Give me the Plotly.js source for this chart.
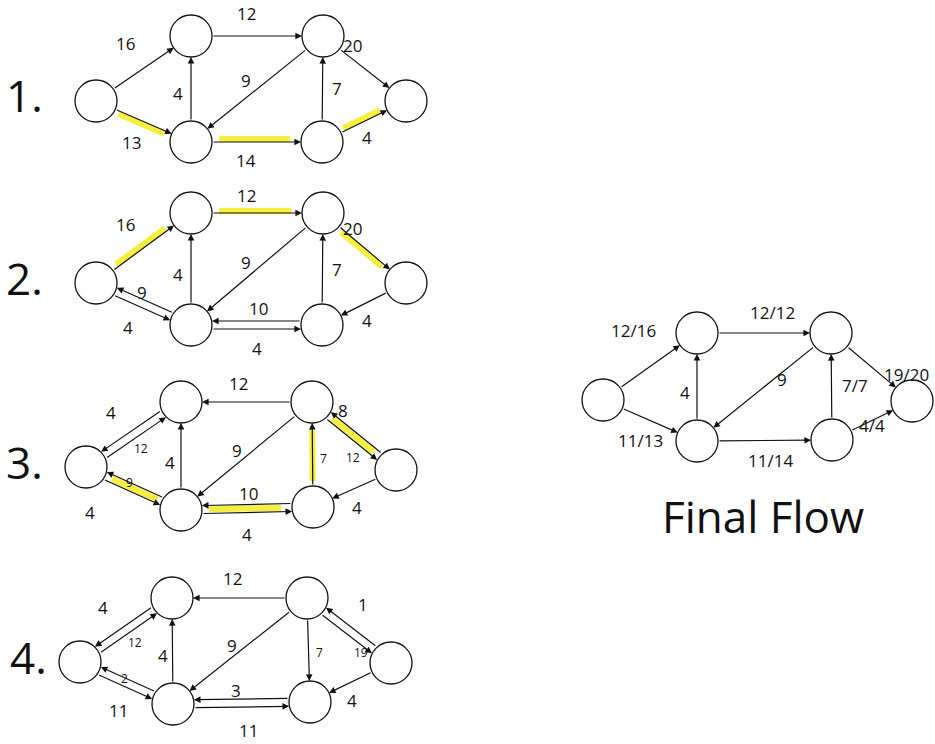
<!DOCTYPE html>
<html>
<head>
<meta charset="utf-8">
<script src="https://cdn.plot.ly/plotly-3.0.1.min.js"></script>
<style>body{margin:0;background:#fff}</style>
</head>
<body>
<div id="chart-area" style="width:935px;height:744px"></div>
<script>
// node centres (pixel space) for each network: s, a, b, c, d, t
const nodes1 = { s: [96, 101], a: [191, 36], b: [191, 142], c: [323, 36], d: [322, 142], t: [406, 101] };
const nodes2 = { s: [96, 283], a: [191, 213], b: [191, 325], c: [323, 213], d: [322, 325], t: [406, 283] };
const nodes3 = { s: [86, 467], a: [181, 402], b: [181, 510], c: [312, 402], d: [313, 507], t: [396, 470] };
const nodes4 = { s: [80, 662], a: [172, 598], b: [173, 704], c: [307, 598], d: [310, 702], t: [391, 663] };
const nodesF = { s: [603, 400], a: [697, 333], b: [697, 441], c: [831, 333], d: [832, 440], t: [912, 401] };

// edges: [from, to, label, labelX, labelY, offset, small]
const edges1 = [
  ["s", "a", "16", 125, 43, 0, 0], ["s", "b", "13", 131, 142, 0, 0], ["a", "c", "12", 246, 13, 0, 0],
  ["b", "a", "4", 178, 93, 0, 0], ["c", "b", "9", 246, 80, 0, 0], ["b", "d", "14", 246, 160, 0, 0],
  ["d", "c", "7", 337, 88, 0, 0], ["c", "t", "20", 352, 45, 0, 0], ["d", "t", "4", 367, 137, 0, 0],
];
const edges2 = [
  ["s", "a", "16", 125, 224, 0, 0], ["s", "b", "9", 142, 292, 4, 0], ["b", "s", "4", 128, 327, 4, 0],
  ["b", "a", "4", 178, 274, 0, 0], ["a", "c", "12", 246, 195, 0, 0], ["c", "b", "9", 246, 262, 0, 0],
  ["b", "d", "10", 258, 308, 4, 0], ["d", "b", "4", 257, 348, 4, 0], ["d", "c", "7", 337, 269, 0, 0],
  ["c", "t", "20", 352, 228, 0, 0], ["t", "d", "4", 367, 320, 0, 0],
];
const edges3 = [
  ["s", "a", "4", 111, 412, 4, 0], ["a", "s", "12", 141, 448, 4, 1], ["c", "a", "12", 238, 383, 0, 0],
  ["b", "a", "4", 170, 462, 0, 0], ["c", "b", "9", 237, 450, 0, 0], ["s", "b", "9", 129, 482, 4, 1],
  ["b", "s", "4", 90, 512, 4, 0], ["b", "d", "10", 248, 493, 4, 0], ["d", "b", "4", 247, 534, 4, 0],
  ["d", "c", "7", 323, 458, 0, 1], ["c", "t", "8", 343, 410, 4, 0], ["t", "c", "12", 353, 457, 4, 1],
  ["t", "d", "4", 357, 507, 0, 0],
];
const edges4 = [
  ["s", "a", "4", 103, 607, 4, 0], ["a", "s", "12", 135, 642, 4, 1], ["c", "a", "12", 232, 578, 0, 0],
  ["b", "a", "4", 163, 655, 0, 0], ["c", "b", "9", 232, 645, 0, 0], ["s", "b", "2", 124, 678, 4, 1],
  ["b", "s", "11", 118, 710, 4, 0], ["b", "d", "3", 236, 690, 4, 0], ["d", "b", "11", 248, 730, 4, 0],
  ["c", "d", "7", 319, 652, 0, 1], ["c", "t", "1", 363, 604, 4, 0], ["t", "c", "19", 361, 652, 4, 1],
  ["t", "d", "4", 352, 700, 0, 0],
];
const edgesF = [
  ["s", "a", "12/16", 633, 330, 0, 0], ["s", "b", "11/13", 640, 440, 0, 0], ["a", "c", "12/12", 772, 312, 0, 0],
  ["b", "a", "4", 685, 392, 0, 0], ["c", "b", "9", 782, 379, 0, 0], ["b", "d", "11/14", 770, 460, 0, 0],
  ["d", "c", "7/7", 855, 385, 0, 0], ["c", "t", "19/20", 906, 374, 0, 0], ["d", "t", "4/4", 872, 425, 0, 0],
];

// highlighted (yellow) edges: [from, to, offset]
const yellow1 = [["s", "b", 3], ["b", "d", -3], ["d", "t", -3]];
const yellow2 = [["s", "a", -3], ["a", "c", -2], ["c", "t", 3]];
const yellow3 = [["b", "s", 0], ["b", "d", 0], ["d", "c", 0], ["c", "t", 0]];

const stepLabels = ["1.", "2.", "3.", "4."];
const stepY = [95, 278, 462, 657];
const stepX = [4, 4, 4, 8];

const R = 21;
const YEL = "#f6ee3c";

const graphs = [
  { nodes: nodes1, edges: edges1, yellow: yellow1 },
  { nodes: nodes2, edges: edges2, yellow: yellow2 },
  { nodes: nodes3, edges: edges3, yellow: yellow3 },
  { nodes: nodes4, edges: edges4, yellow: [] },
  { nodes: nodesF, edges: edgesF, yellow: [] },
];

function segment(p, q, off) {
  const dx = q[0] - p[0], dy = q[1] - p[1];
  const len = Math.sqrt(dx * dx + dy * dy);
  const ux = dx / len, uy = dy / len;
  // perpendicular offset (to the right of travel direction)
  const nx = -uy * off, ny = ux * off;
  return [p[0] + ux * R + nx, p[1] + uy * R + ny, q[0] - ux * R + nx, q[1] - uy * R + ny];
}

const data = [];
const annotations = [];
const shapes = [];

graphs.forEach((g) => {
  g.yellow.forEach(([f, t, off]) => {
    const s = segment(g.nodes[f], g.nodes[t], off);
    const k0 = 0.08, k1 = 0.88;
    shapes.push({
      type: "line", layer: "below",
      x0: s[0] + (s[2] - s[0]) * k0, y0: s[1] + (s[3] - s[1]) * k0,
      x1: s[0] + (s[2] - s[0]) * k1, y1: s[1] + (s[3] - s[1]) * k1,
      line: { color: YEL, width: 6 },
    });
  });

  g.edges.forEach(([f, t, lab, lx, ly, off, small]) => {
    const s = segment(g.nodes[f], g.nodes[t], off);
    annotations.push({
      x: s[2], y: s[3], ax: s[0], ay: s[1], axref: "x", ayref: "y", xref: "x", yref: "y",
      showarrow: true, arrowhead: 2, arrowsize: 1.1, arrowwidth: 1.2, arrowcolor: "#111", text: "",
    });
    annotations.push({
      x: lx, y: ly, xref: "x", yref: "y", showarrow: false, text: lab,
      font: { family: "Open Sans, sans-serif", size: small ? 12 : 17, color: "#111" },
    });
  });

  const keys = Object.keys(g.nodes);
  data.push({
    type: "scatter", mode: "markers", hoverinfo: "none", showlegend: false,
    x: keys.map((k) => g.nodes[k][0]), y: keys.map((k) => g.nodes[k][1]),
    marker: { size: 2 * R, color: "#fff", line: { color: "#111", width: 1.3 } },
  });
});

stepLabels.forEach((t, i) => {
  annotations.push({
    x: stepX[i], y: stepY[i], xref: "x", yref: "y", xanchor: "left", showarrow: false, text: t,
    font: { family: "Open Sans, sans-serif", size: 44, color: "#111" },
  });
});
annotations.push({
  x: 763, y: 516, xref: "x", yref: "y", showarrow: false, text: "Final Flow",
  font: { family: "Open Sans, sans-serif", size: 44, color: "#111" },
});

const layout = {
  width: 935, height: 744,
  margin: { l: 0, r: 0, t: 0, b: 0 },
  paper_bgcolor: "#fff", plot_bgcolor: "#fff",
  xaxis: { range: [0, 935], visible: false, fixedrange: true },
  yaxis: { range: [744, 0], visible: false, fixedrange: true },
  annotations: annotations, shapes: shapes,
};

Plotly.newPlot("chart-area", data, layout, { staticPlot: true });
</script>
</body>
</html>
